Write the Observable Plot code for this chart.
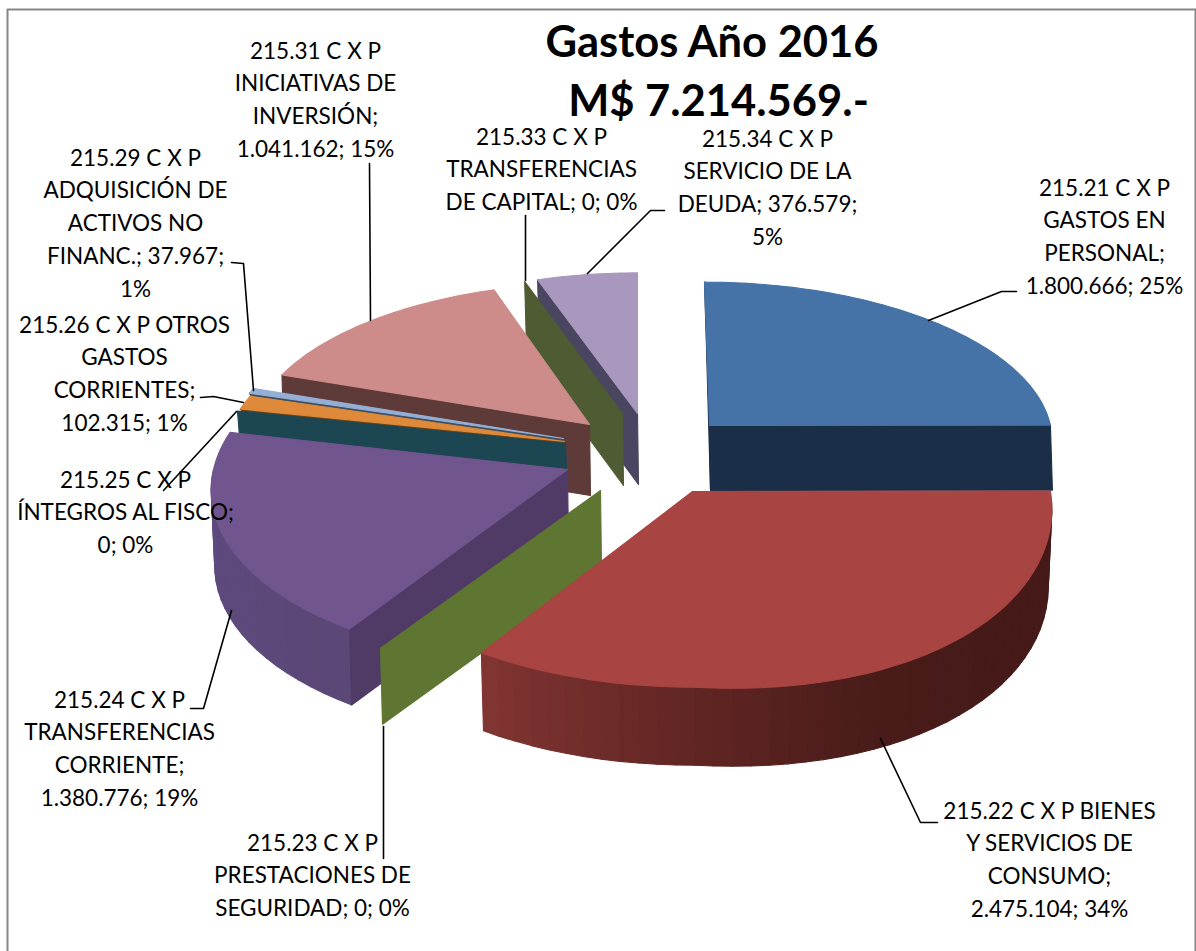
<!DOCTYPE html>
<html><head><meta charset="utf-8">
<script src="https://cdn.jsdelivr.net/npm/d3@7"></script>
<script src="https://cdn.jsdelivr.net/npm/@observablehq/plot@0.6"></script>
<style>html,body{margin:0;padding:0;background:#fff}svg{display:block}</style>
</head><body><div id="chart"></div>
<script>
// ---- data ----
const codes = ["215.21","215.22","215.23","215.24","215.25","215.26","215.29","215.31","215.33","215.34"];
const values = [1800666,2475104,0,1380776,0,102315,37967,1041162,0,376579];
const labelLines = [
 ["215.21 C X P","GASTOS EN","PERSONAL;","1.800.666; 25%"],
 ["215.22 C X P BIENES","Y SERVICIOS DE","CONSUMO;","2.475.104; 34%"],
 ["215.23 C X P","PRESTACIONES DE","SEGURIDAD; 0; 0%"],
 ["215.24 C X P","TRANSFERENCIAS","CORRIENTE;","1.380.776; 19%"],
 ["215.25 C X P","ÍNTEGROS AL FISCO;","0; 0%"],
 ["215.26 C X P OTROS","GASTOS","CORRIENTES;","102.315; 1%"],
 ["215.29 C X P","ADQUISICIÓN DE","ACTIVOS NO","FINANC.; 37.967;","1%"],
 ["215.31 C X P","INICIATIVAS DE","INVERSIÓN;","1.041.162; 15%"],
 ["215.33 C X P","TRANSFERENCIAS","DE CAPITAL; 0; 0%"],
 ["215.34 C X P","SERVICIO DE LA","DEUDA; 376.579;","5%"]
];
const titleLines = ["Gastos Año 2016","M$ 7.214.569.-"];

// ---- layout (3-D look of each slice: apex, radii, thickness, colours) ----
const persp = 0.087;
const layout = [
 {cx:709,cy:425,rx:341,ry:157,skew:.035,depth:65,top:"#4572a7",wall:"#1b2e48"},
 {cx:692,cy:491,rx:358,ry:180,skew:0,depth:78,bulge:11,top:"#a84441",side:["#451a18","#451a18","#4a1c1a","#652725","#833633"]},
 {cx:600,cy:490,rx:373,ry:176,skew:0,depth:76,wall:"#5f7532"},
 {cx:567,cy:469,rx:354,ry:178,skew:-.057,depth:76,top:"#70558f",wall:"#503b66",side:["#5b4876","#5f4a80"]},
 {cx:565,cy:443,rx:342,ry:156,skew:0,depth:25,wall:"#1c4652"},
 {cx:564,cy:441,rx:338,ry:156,skew:0,depth:3,top:"#df8a3a",wall:"#6b4318"},
 {cx:563,cy:438,rx:338,ry:156,skew:0,depth:3,top:"#94aed4",wall:"#3f4f63"},
 {cx:589,cy:424,rx:337,ry:155,skew:-.03,depth:71,top:"#cd8c89",wall:"#5e3a38"},
 {cx:622,cy:413,rx:331,ry:152,skew:0,depth:72,wall:"#4e5b33"},
 {cx:637,cy:413,rx:338,ry:154,skew:0,depth:71,top:"#a898bd",wall:"#4a4560"}
];
const labelPos = [[1104,188],[1049,811],[312,843],[119,700],[125,480],[124,325],[135,158],[315,51],[541,137],[767,139]];
const leaders = [
 [[1016,291],[1001,291],[928,320]],
 [[937,822],[920,822],[880,738]],
 [[383,726],[383,858]],
 [[190,708],[203,708],[231,610]],
 [[236,411],[163,490]],
 [[200,397],[213,396],[243,402]],
 [[231,262],[243,263],[253,390]],
 [[369,163],[370,320]],
 [[525,215],[525,280]],
 [[664,210],[650,210],[587,273]]
];

// ---- derive angles from the values ----
const total = d3.sum(values);
let acc = 0;
const slices = values.map((v,i)=>{const a0=acc/total*2*Math.PI; acc+=v; return {i,a0,a1:acc/total*2*Math.PI,...layout[i]};});
const rim=(s,t)=>{
  const f=1-persp*Math.cos(t);
  let dy=-s.ry*Math.cos(t)*f;
  if(s.bulge && t>Math.PI/2 && t<Math.PI) dy+=s.bulge*Math.sin(2*(t-Math.PI/2));
  return [s.cx+s.rx*Math.sin(t)*f+s.skew*dy,s.cy+dy];
};
const low=(s,p)=>[s.cx+(p[0]-s.cx)*0.99,p[1]+s.depth];
const polys=[]; let pid=0;
const add=(pts,color)=>{pid++;pts.forEach(p=>polys.push({id:pid,x:p[0],y:p[1],c:color}));};
const wall=(s,t)=>{const r=rim(s,t);add([r,[s.cx,s.cy],[s.cx+1,s.cy+s.depth],[r[0]+2,r[1]+s.depth]],s.wall);};
const topFace=s=>{const n=Math.max(2,Math.ceil((s.a1-s.a0)/0.02));const pts=[[s.cx,s.cy]];for(let k=0;k<=n;k++)pts.push(rim(s,s.a0+(s.a1-s.a0)*k/n));add(pts,s.top);};
const side=(s,from,to)=>{const n=Math.ceil((to-from)/0.05);const col=d3.piecewise(d3.interpolateRgb,s.side);
  for(let k=0;k<n;k++){const t0=from+(to-from)*k/n,t1=from+(to-from)*(k+1)/n;const a=rim(s,t0),b=rim(s,t1);add([a,b,low(s,b),low(s,a)],col(k/n));}};
const S=slices;
// painter's order: far slices first
wall(S[0],S[0].a0); wall(S[0],S[0].a1); topFace(S[0]);
wall(S[9],S[9].a0); topFace(S[9]);
wall(S[8],S[8].a0);
wall(S[7],S[7].a0); topFace(S[7]);
wall(S[6],S[6].a0); topFace(S[6]);
wall(S[5],S[5].a0); topFace(S[5]);
wall(S[4],S[4].a0);
side(S[3],S[3].a0,S[3].a1*0.955); wall(S[3],S[3].a0); topFace(S[3]);
wall(S[2],S[2].a0);
side(S[1],S[1].a0+0.05,S[1].a1); topFace(S[1]);

const labelRows = labelLines.flatMap((ls,i)=>ls.map((t,j)=>({t,x:labelPos[i][0],y:labelPos[i][1]+j*32.7})));
const leaderRows = leaders.flatMap((l,i)=>l.map(p=>({id:i,x:p[0],y:p[1]})));
const frameRows = [[7,951],[7,9],[1195,9],[1195,951]].map(p=>({x:p[0],y:p[1]}));
const titleRows = [{t:titleLines[0],x:711.5,y:43},{t:titleLines[1],x:718,y:102}];

const chart = Plot.plot({
  width:1196,height:951,margin:0,
  style:{background:"#fff",overflow:"visible"},
  x:{domain:[0,1196],range:[0,1196],axis:null},
  y:{domain:[0,951],range:[0,951],axis:null},
  color:{type:"identity"},
  marks:[
    Plot.line(frameRows,{x:"x",y:"y",stroke:"#868686",strokeWidth:2}),
    Plot.line(polys,{x:"x",y:"y",z:"id",fill:"c",stroke:"c",strokeWidth:1.1,curve:"linear-closed"}),
    Plot.line(leaderRows,{x:"x",y:"y",z:"id",stroke:"#000",strokeWidth:1.6}),
    Plot.text(labelRows,{x:"x",y:"y",text:"t",textAnchor:"middle",lineAnchor:"middle",fontFamily:"Lato",fontSize:22.5,fill:"#000"}),
    Plot.text(titleRows,{x:"x",y:"y",text:"t",textAnchor:"middle",lineAnchor:"middle",fontFamily:"Lato",fontWeight:"bold",fontSize:43.5,fill:"#000"})
  ]
});
document.getElementById("chart").appendChild(chart);
</script></body></html>
